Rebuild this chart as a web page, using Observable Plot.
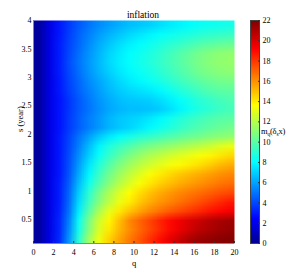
<!DOCTYPE html>
<html><head><meta charset="utf-8">
<script src="https://cdn.jsdelivr.net/npm/d3@7"></script>
<script src="https://cdn.jsdelivr.net/npm/@observablehq/plot@0.6"></script>
<style>
body{margin:0;background:#fff;}
#wrap{position:relative;width:289px;height:273px;font-family:"Liberation Serif",serif;overflow:hidden;}
#main{position:absolute;left:0;top:0;}
#bar{position:absolute;left:240px;top:0;}
#cblabel{position:absolute;left:261px;top:127px;font-size:8.5px;line-height:1;white-space:nowrap;color:#000;letter-spacing:-0.2px;}
#cblabel sub{font-size:5.5px;line-height:0;vertical-align:-1.5px;}
</style></head><body>
<div id="wrap"><div id="main"></div><div id="bar"></div><div id="cblabel">m<sub>q</sub>(δ<sub>s</sub>x)</div></div>
<script>
const title = "inflation";
const xLabel = "q";
const yLabel = "s (year)";
const qRange = [0, 20];
const sRange = [0.08, 4];
const cRange = [0, 22];
const xTicks = [0, 2, 4, 6, 8, 10, 12, 14, 16, 18, 20];
const yTicks = [0.5, 1, 1.5, 2, 2.5, 3, 3.5, 4];
const cTicks = [0, 2, 4, 6, 8, 10, 12, 14, 16, 18, 20, 22];
// jet colormap stops
const jetStops = [0, 2.44, 8.03, 13.62, 19.2, 22];
const jetColors = ["#00008f", "#0000ff", "#00ffff", "#ffff00", "#ff0000", "#800000"];
// grid rows from s = 4 (top) down to s = 0.08 (bottom); columns q = 0.5 ... 19.5
const grid = [
[0.3,1.8,2.9,3.7,4.4,5.0,5.5,5.9,6.3,6.6,6.8,7.0,7.3,7.6,7.8,8.0,8.2,8.3,8.4,8.5],
[0.3,1.8,2.9,3.8,4.6,5.3,5.9,6.4,6.8,7.2,7.5,7.8,8.1,8.3,8.5,8.7,8.9,9.1,9.2,9.3],
[0.3,1.8,3.0,3.9,4.7,5.5,6.2,6.8,7.3,7.7,8.0,8.3,8.6,8.9,9.2,9.5,9.8,10.0,10.2,10.3],
[0.3,1.8,3.0,4.0,4.9,5.7,6.4,7.1,7.6,8.0,8.3,8.6,9.0,9.4,9.8,10.2,10.6,10.9,11.1,11.2],
[0.3,1.8,3.0,4.1,5.0,5.8,6.5,7.2,7.7,8.1,8.4,8.7,9.1,9.5,9.9,10.3,10.7,11.0,11.2,11.3],
[0.3,1.8,3.0,4.0,4.9,5.7,6.4,7.0,7.5,7.9,8.2,8.5,8.9,9.3,9.7,10.1,10.5,10.8,11.0,11.1],
[0.3,1.8,2.9,3.9,4.7,5.5,6.1,6.7,7.2,7.6,7.9,8.2,8.5,8.9,9.3,9.7,10.0,10.3,10.5,10.6],
[0.3,1.8,2.9,3.8,4.6,5.3,5.9,6.5,6.9,7.2,7.4,7.6,7.9,8.3,8.7,9.1,9.5,9.8,10.0,10.1],
[0.3,1.8,2.8,3.6,4.4,5.1,5.7,6.2,6.6,6.8,6.9,7.0,7.3,7.7,8.1,8.5,8.9,9.2,9.5,9.7],
[0.3,1.8,2.8,3.6,4.4,5.0,5.6,6.1,6.4,6.6,6.6,6.7,6.9,7.3,7.8,8.3,8.7,9.0,9.3,9.5],
[0.3,1.8,2.8,3.7,4.5,5.2,5.8,6.4,6.8,7.0,7.2,7.5,7.9,8.3,8.7,9.1,9.4,9.7,9.9,10.0],
[0.3,1.8,2.8,3.7,4.5,5.2,5.8,6.4,6.8,7.1,7.5,7.9,8.3,8.7,9.1,9.5,9.8,10.1,10.3,10.5],
[0.3,1.8,2.9,3.9,5.0,6.0,6.9,7.6,8.1,8.5,8.9,9.2,9.5,9.8,10.1,10.4,10.6,10.9,11.1,11.2],
[0.3,1.8,2.9,4.0,5.3,6.6,7.8,8.7,9.3,9.8,10.3,10.7,11.0,11.3,11.6,11.9,12.2,12.5,12.9,13.2],
[0.3,1.8,2.9,4.1,5.6,7.0,8.2,9.2,10.0,10.7,11.3,11.8,12.2,12.6,12.9,13.2,13.5,13.8,14.1,14.4],
[0.3,1.8,2.9,4.2,5.9,7.5,8.8,9.9,10.8,11.5,12.1,12.6,13.0,13.4,13.7,14.0,14.3,14.7,15.1,15.4],
[0.3,1.8,2.9,4.3,6.2,7.9,9.3,10.5,11.4,12.2,12.9,13.5,14.0,14.4,14.8,15.1,15.4,15.7,16.0,16.2],
[0.3,1.8,3.0,4.5,6.6,8.4,9.8,11.0,12.0,12.8,13.5,14.1,14.6,15.0,15.4,15.7,16.0,16.3,16.6,16.8],
[0.3,1.8,3.0,4.7,7.0,9.0,10.6,11.8,12.8,13.6,14.3,14.9,15.4,15.8,16.2,16.5,16.8,17.1,17.4,17.6],
[0.3,1.8,3.0,4.8,7.3,9.4,11.0,12.2,13.2,14.0,14.8,15.4,15.9,16.3,16.7,17.1,17.5,17.9,18.3,18.7],
[0.3,1.8,3.1,5.0,7.7,10.0,11.8,13.1,14.1,14.9,15.6,16.2,16.7,17.2,17.6,18.0,18.4,18.8,19.1,19.4],
[0.3,1.8,3.2,5.3,8.3,10.8,12.6,13.8,15.0,16.2,17.0,17.7,18.4,19.0,19.5,20.0,20.4,20.8,21.1,21.3],
[0.3,1.8,3.2,5.5,8.5,11.0,12.8,14.1,15.2,16.1,16.9,17.6,18.3,19.0,19.6,20.2,20.7,21.0,21.3,21.5],
[0.3,1.8,3.3,5.8,9.0,11.6,13.3,14.6,15.6,16.5,17.3,18.1,18.9,19.7,20.4,21.0,21.4,21.6,21.8,21.9]
];

const nRows = grid.length, nCols = grid[0].length;
const values = grid.flat();
const colorOpts = {type: "linear", domain: jetStops, range: jetColors, clamp: true};
const font = {fontFamily: "'Liberation Serif', serif", fontSize: "8px", background: "transparent", color: "#000"};

const main = Plot.plot({
  width: 240, height: 273,
  marginLeft: 33, marginRight: 6, marginTop: 20, marginBottom: 30,
  style: font,
  x: {domain: qRange},
  y: {domain: sRange},
  color: colorOpts,
  marks: [
    Plot.raster(values, {width: nCols, height: nRows, x1: qRange[0], x2: qRange[1], y1: sRange[1], y2: sRange[0], fill: d => d}),
    Plot.ruleY([sRange[0]], {stroke: "#888", strokeWidth: 1}),
    Plot.ruleX([qRange[0]], {stroke: "#888", strokeWidth: 1}),
    Plot.axisX({ticks: xTicks, tickSize: 0, tickPadding: 6, label: null, tickFormat: d => String(d)}),
    Plot.axisX({ticks: xTicks, tickSize: -2, text: null, label: null, stroke: "#333"}),
    Plot.axisY({ticks: yTicks, tickSize: 0, tickPadding: 2, label: null, tickFormat: d => String(d)}),
    Plot.text([title], {frameAnchor: "top", dx: 9, dy: -9, fontSize: 9.5, fill: "#000"}),
    Plot.text([xLabel], {frameAnchor: "bottom", dy: 22, fontSize: 8.5, fill: "#000"}),
    Plot.text([yLabel], {frameAnchor: "left", dx: -13, rotate: -90, fontSize: 8.5, fill: "#000"})
  ]
});
document.getElementById("main").append(main);

const bar = Plot.plot({
  width: 49, height: 273,
  marginLeft: 10, marginRight: 30, marginTop: 20, marginBottom: 30,
  style: font,
  x: {domain: [0, 1], axis: null},
  y: {domain: cRange},
  color: colorOpts,
  marks: [
    Plot.raster({x1: 0, x2: 1, y1: cRange[0], y2: cRange[1], fill: (x, y) => y}),
    Plot.frame({stroke: "#444"}),
    Plot.axisY({anchor: "right", ticks: cTicks, tickSize: 0, tickPadding: 3, label: null, tickFormat: d => String(d)}),
    Plot.axisY({anchor: "right", ticks: cTicks, tickSize: -2, text: null, label: null, stroke: "#333"})
  ]
});
document.getElementById("bar").append(bar);
</script>
</body></html>
